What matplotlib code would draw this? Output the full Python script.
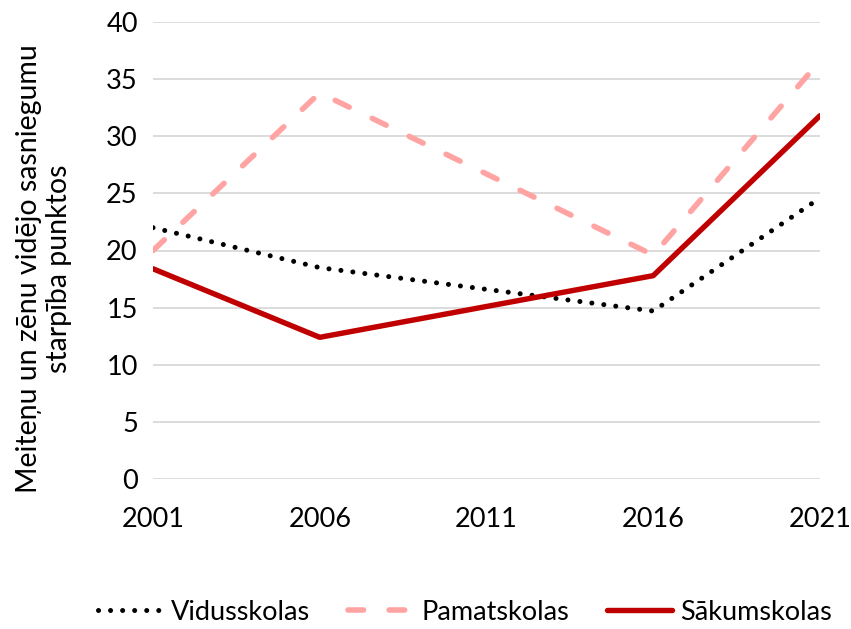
import numpy as np
import matplotlib.pyplot as plt

# data
years = [2001, 2006, 2011, 2016, 2021]
vidusskolas = [22.0, 18.5, 16.6, 14.7, 24.6]
pamatskolas = [20.0, 33.8, 26.7, 19.6, 36.6]
sakumskolas = [18.4, 12.4, 15.1, 17.8, 31.8]
yticks = [0, 5, 10, 15, 20, 25, 30, 35, 40]

plt.rcParams['font.family'] = ['Lato', 'DejaVu Sans']
plt.rcParams['font.size'] = 19.5

fig = plt.figure(figsize=(8.51, 6.29), dpi=100)
ax = fig.add_axes([153/851, 1 - 479/629, (820 - 153)/851, (479 - 22)/629])

ax.plot(years, vidusskolas, color='black', lw=3.6, linestyle=(0, (0.01, 2.4)),
        dash_capstyle='round', label='Vidusskolas')
ax.plot(years, pamatskolas, color='#FFA3A3', lw=4.0, linestyle=(0, (2.8, 4.6)),
        dash_capstyle='round', label='Pamatskolas')
ax.plot(years, sakumskolas, color='#C00000', lw=3.9, solid_capstyle='round',
        label='Sākumskolas')

ax.set_xlim(2001, 2021)
ax.set_ylim(0, 40)
ax.set_xticks(years)
ax.set_yticks(yticks)
ax.grid(axis='y', color='#D9D9D9', lw=1.3)
ax.set_axisbelow(True)
for s in ['top', 'right', 'left', 'bottom']:
    ax.spines[s].set_visible(False)
ax.tick_params(axis='both', length=0)
ax.tick_params(axis='y', pad=11)
ax.tick_params(axis='x', pad=20)

fig.text(44/851, 1 - 269/629, 'Meiteņu un zēnu vidējo sasniegumu\nstarpība punktos',
         rotation=90, ha='center', va='center', multialignment='center', fontsize=20.5)

fig.legend(loc='center', bbox_to_anchor=(465/851, 1 - 612/629), ncol=3,
           frameon=False, handlelength=2.4, columnspacing=1.4, handletextpad=0.3)

fig.savefig('out.png', dpi=100)
